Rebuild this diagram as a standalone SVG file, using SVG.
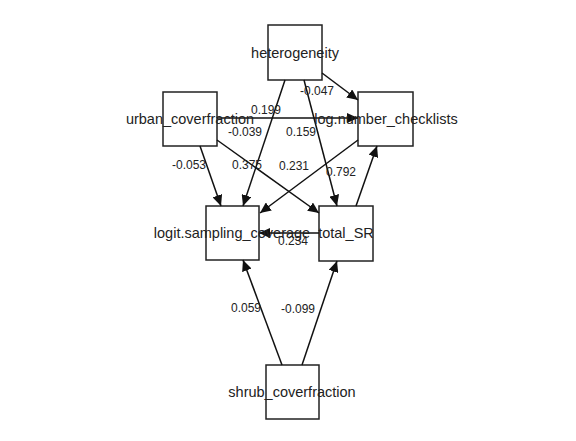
<svg xmlns="http://www.w3.org/2000/svg" width="576" height="441" viewBox="0 0 576 441">
<style>
.box{fill:#fff;stroke:#222;stroke-width:1.5}
.nl{font-family:"Liberation Sans",Arial,sans-serif;font-size:14.5px;fill:#222;text-anchor:middle}
.el{font-family:"Liberation Sans",Arial,sans-serif;font-size:12px;fill:#222;text-anchor:middle}
.e{stroke:#111;stroke-width:1.5;fill:none;marker-end:url(#ah)}
</style>
<defs>
<marker id="ah" markerUnits="userSpaceOnUse" markerWidth="12" markerHeight="10" refX="11" refY="5" orient="auto">
<path d="M0,0 L11,5 L0,10 Z" fill="#111"/>
</marker>
</defs>
<rect width="576" height="441" fill="#fff"/>
<g id="nodes">
<g id="heterogeneity"><rect class="box" x="268" y="25" width="54" height="55"/></g>
<g id="urban_coverfraction"><rect class="box" x="163" y="92" width="54" height="54"/></g>
<g id="log.number_checklists"><rect class="box" x="358" y="92" width="55" height="54"/></g>
<g id="logit.sampling_coverage"><rect class="box" x="206" y="206" width="53" height="54"/></g>
<g id="total_SR"><rect class="box" x="319" y="206" width="54" height="55"/></g>
<g id="shrub_coverfraction"><rect class="box" x="266" y="365" width="53" height="54"/></g>
</g>
<g id="connectors">
<line class="e" x1="322" y1="73" x2="358" y2="100"/>
<line class="e" x1="217" y1="118" x2="358" y2="118"/>
<line class="e" x1="285" y1="80" x2="243" y2="206"/>
<line class="e" x1="304" y1="80" x2="337" y2="206"/>
<line class="e" x1="200" y1="146" x2="221" y2="206"/>
<line class="e" x1="217" y1="140" x2="319" y2="213"/>
<line class="e" x1="358" y1="140" x2="260" y2="213"/>
<line class="e" x1="356" y1="206" x2="377" y2="146"/>
<line class="e" x1="319" y1="233" x2="259" y2="233"/>
<line class="e" x1="282" y1="365" x2="243" y2="260"/>
<line class="e" x1="302" y1="365" x2="337" y2="261"/>
<text class="el" x="317" y="95">-0.047</text>
<text class="el" x="266" y="114">0.199</text>
<text class="el" x="245" y="136">-0.039</text>
<text class="el" x="301" y="136">0.159</text>
<text class="el" x="189" y="169">-0.053</text>
<text class="el" x="247" y="169">0.375</text>
<text class="el" x="294" y="170">0.231</text>
<text class="el" x="341" y="176">0.792</text>
<text class="el" x="293" y="245">0.234</text>
<text class="el" x="246" y="312">0.059</text>
<text class="el" x="298" y="313">-0.099</text>
</g>
<g id="labels">
<text class="nl" x="295" y="58">heterogeneity</text>
<text class="nl" x="190" y="124">urban_coverfraction</text>
<text class="nl" x="386" y="124">log.number_checklists</text>
<text class="nl" x="232" y="238">logit.sampling_coverage</text>
<text class="nl" x="346" y="238">total_SR</text>
<text class="nl" x="292" y="397">shrub_coverfraction</text>
</g>
</svg>
